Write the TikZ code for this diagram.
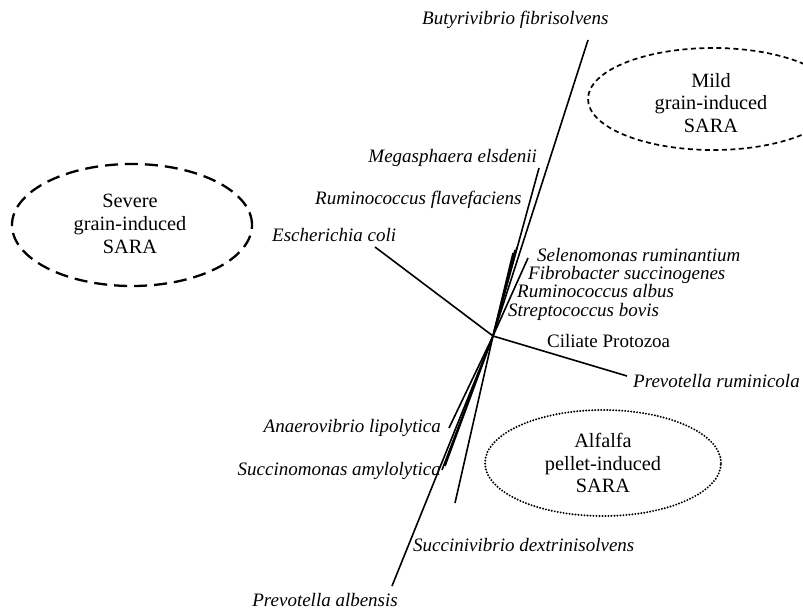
\documentclass[tikz,border=0pt]{standalone}
\usepackage{fontspec}
\setmainfont{Liberation Serif}
\usetikzlibrary{shapes.geometric}
\begin{document}
\begin{tikzpicture}[x=1pt,y=-1pt,
  sp/.style={font=\fontsize{19}{22}\selectfont\itshape, inner sep=0pt},
  up/.style={font=\fontsize{19}{22}\selectfont, inner sep=0pt},
  branch/.style={line width=1.6pt},
  zone/.style={ellipse, draw, inner sep=0pt},
  zonetext/.style={align=center, inner sep=0pt, font=\fontsize{20.3}{22.7}\selectfont},
]
\useasboundingbox (0,0) rectangle (803,609);
\clip (0,0) rectangle (803,609);

% zones
\node[zone, dash pattern=on 13pt off 7pt, line width=2.3pt, minimum width=240pt, minimum height=122pt] (severe) at (132,225) {};
\node[zonetext] (severe-t) at (130,224) {Severe\\grain-induced\\SARA};
\node[zone, dash pattern=on 5pt off 3.5pt, line width=1.7pt, minimum width=250pt, minimum height=102pt] (mild) at (713,99) {};
\node[zonetext] (mild-t) at (711,103) {Mild\\grain-induced\\SARA};
\node[zone, dash pattern=on 0pt off 3pt, line cap=round, line width=2.2pt, minimum width=236pt, minimum height=106pt] (alfalfa) at (603,463) {};
\node[zonetext] (alfalfa-t) at (603,463) {Alfalfa\\pellet-induced\\SARA};

% hub and branch ends
\coordinate (hub) at (493,336);
\coordinate (e-bf) at (588,40);
\coordinate (e-me) at (539,168);
\coordinate (e-rf) at (517,247);
\coordinate (e-fs) at (515,250);
\coordinate (e-ra) at (513,253);
\coordinate (e-sr) at (528,258);
\coordinate (e-ec) at (375,247);
\coordinate (e-pr) at (627,376);
\coordinate (e-al) at (449,428);
\coordinate (e-sa1) at (445,466);
\coordinate (e-sa2) at (442,470);
\coordinate (e-sd) at (455,503);
\coordinate (e-pa) at (392,586);

\foreach \e in {bf,me,rf,fs,ra,sr,ec,pr,al,sa1,sa2,sd,pa}
  \draw[branch] (hub) -- (e-\e);

% labels
\node[sp, anchor=base west] (l-bf) at (422,25) {Butyrivibrio fibrisolvens};
\node[sp, anchor=base east] (l-me) at (537,163) {Megasphaera elsdenii};
\node[sp, anchor=base west] (l-rf) at (315,205) {Ruminococcus flavefaciens};
\node[sp, anchor=base west] (l-ec) at (272,242) {Escherichia coli};
\node[sp, anchor=base west] (l-sr) at (537,262) {Selenomonas ruminantium};
\node[sp, anchor=base west] (l-fs) at (528,280) {Fibrobacter succinogenes};
\node[sp, anchor=base west] (l-ra) at (517,298) {Ruminococcus albus};
\node[sp, anchor=base west] (l-sb) at (508,317) {Streptococcus bovis};
\node[up, anchor=base west] (l-cp) at (547,348) {Ciliate Protozoa};
\node[sp, anchor=base west] (l-pr) at (633,388) {Prevotella ruminicola};
\node[sp, anchor=base east] (l-al) at (441,432) {Anaerovibrio lipolytica};
\node[sp, anchor=base east] (l-sa) at (441,475) {Succinomonas amylolytica};
\node[sp, anchor=base west] (l-sd) at (413,551) {Succinivibrio dextrinisolvens};
\node[sp, anchor=base east] (l-pa) at (398,606) {Prevotella albensis};
\end{tikzpicture}
\end{document}
